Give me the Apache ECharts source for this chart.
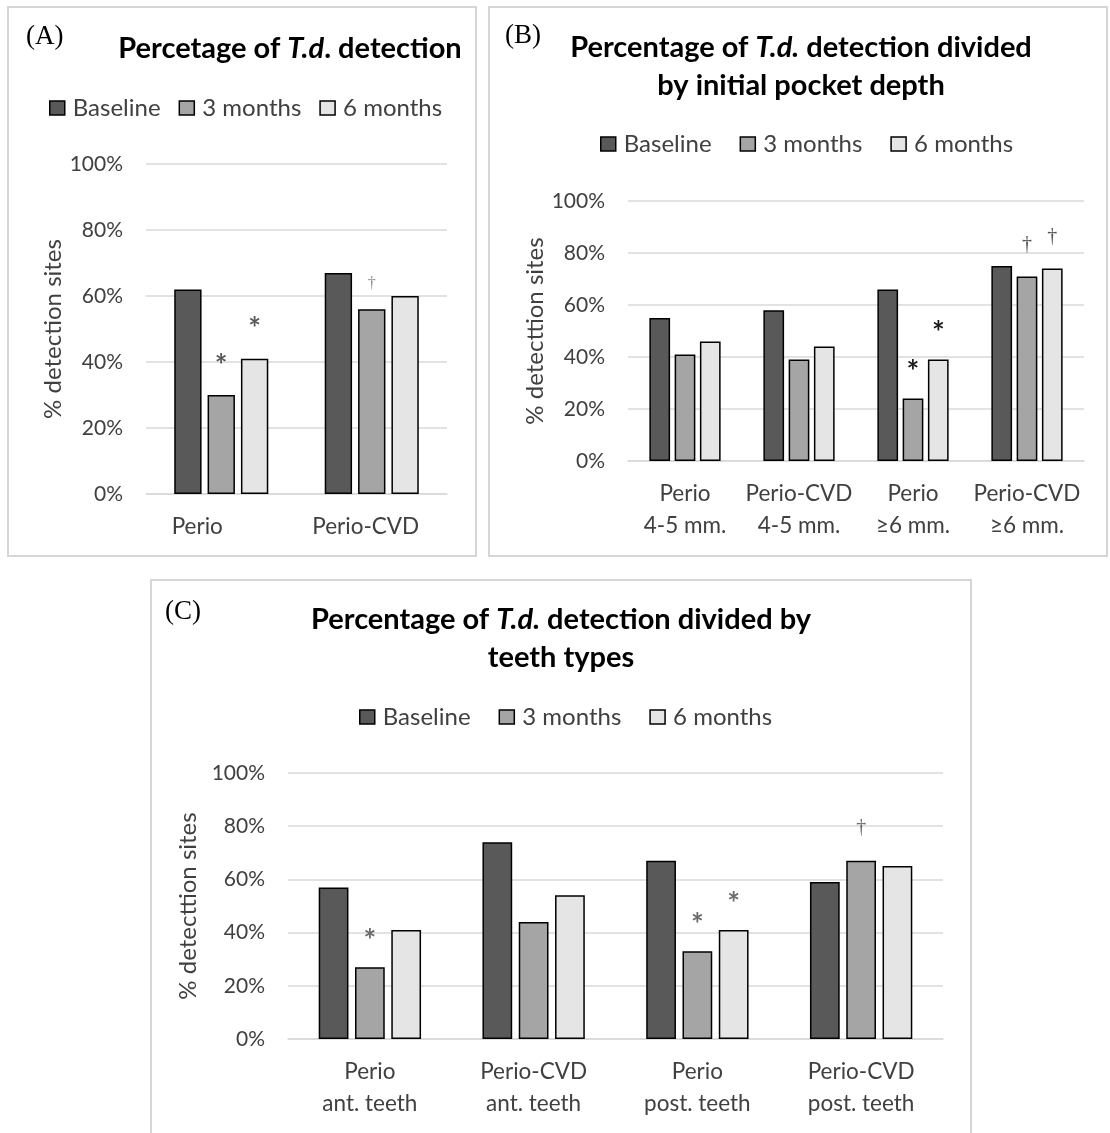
<!DOCTYPE html>
<html>
<head>
<meta charset="utf-8">
<script src="https://cdn.jsdelivr.net/npm/echarts@6/dist/echarts.min.js"></script>
<style>
  html, body { margin: 0; padding: 0; background: #ffffff; }
  #chart { width: 1110px; height: 1133px; }
</style>
</head>
<body>
<div id="chart"></div>
<script>
// ---- data ----
const seriesNames = ['Baseline', '3 months', '6 months'];

// Panel A: overall detection
const catsA = ['Perio', 'Perio-CVD'];
const baseA = [62, 67];
const m3A = [30, 56];
const m6A = [41, 60];
const markM3A = ['*', '\u2020'];
const markM6A = ['*', ''];

// Panel B: by initial pocket depth
const catsB = ['Perio\n4-5 mm.', 'Perio-CVD\n4-5 mm.', 'Perio\n\u22656 mm.', 'Perio-CVD\n\u22656 mm.'];
const baseB = [55, 58, 66, 75];
const m3B = [41, 39, 24, 71];
const m6B = [46, 44, 39, 74];
const markM3B = ['', '', '*', '\u2020'];
const markM6B = ['', '', '*', '\u2020'];

// Panel C: by teeth type
const catsC = ['Perio\nant. teeth', 'Perio-CVD\nant. teeth', 'Perio\npost. teeth', 'Perio-CVD\npost. teeth'];
const baseC = [57, 74, 67, 59];
const m3C = [27, 44, 33, 67];
const m6C = [41, 54, 41, 65];
const markM3C = ['*', '', '*', '\u2020'];
const markM6C = ['', '', '*', ''];

const yTicks = { min: 0, max: 100, interval: 20 };

// ---- styling ----
const FONT = 'Lato';
const TXT = '#404040';
const GRIDC = '#d9d9d9';
const fills = ['#595959', '#a5a5a5', '#e5e5e5'];

const panels = [
  { cats: catsA, vals: [baseA, m3A, m6A], marks: [null, markM3A, markM6A],
    grid: { left: 146, top: 164, width: 301, height: 330 },
    labelShift: [48, 12],
    yName: '% detection sites', nameGap: 78,
    starColor: '#5a5a5a', starDist: 14,
    dagSize: 16, dagColor: '#8a8a8a', dagDist: 17 },
  { cats: catsB, vals: [baseB, m3B, m6B], marks: [null, markM3B, markM6B],
    grid: { left: 628, top: 201, width: 456, height: 260 },
    labelShift: null,
    yName: '% detecttion sites', nameGap: 74,
    starColor: '#1a1a1a', starDist: 11,
    dagSize: 20, dagColor: '#555555', dagDist: 22 },
  { cats: catsC, vals: [baseC, m3C, m6C], marks: [null, markM3C, markM6C],
    grid: { left: 288, top: 773, width: 655, height: 266 },
    labelShift: null,
    yName: '% detecttion sites', nameGap: 74,
    starColor: '#6a6a6a', starDist: 11,
    dagSize: 20, dagColor: '#6a6a6a', dagDist: 23 }
];

function markLabel(sym, p) {
  if (sym === '*') {
    return { show: true, position: 'top', formatter: '*', distance: p.starDist,
      fontFamily: FONT, fontWeight: 'bold', fontSize: 30, color: p.starColor, lineHeight: 30 };
  }
  return { show: true, position: 'top', formatter: sym, distance: p.dagDist,
    fontFamily: 'Liberation Serif', fontSize: p.dagSize, color: p.dagColor, lineHeight: p.dagSize };
}

const grids = [], xAxes = [], yAxes = [], series = [];
panels.forEach((p, g) => {
  grids.push(Object.assign({ containLabel: false }, p.grid));
  const catData = p.cats.map((c, i) => p.labelShift
    ? { value: c, textStyle: { padding: [0, p.labelShift[i], 0, 0] } } : c);
  xAxes.push({
    type: 'category', gridIndex: g, data: catData,
    axisLine: { lineStyle: { color: GRIDC, width: 1.5 } },
    axisTick: { show: false },
    axisLabel: { interval: 0, fontFamily: FONT, fontSize: 22.5, color: TXT, margin: 17, lineHeight: 32 }
  });
  yAxes.push({
    type: 'value', gridIndex: g, min: yTicks.min, max: yTicks.max, interval: yTicks.interval,
    axisLine: { show: false }, axisTick: { show: false },
    axisLabel: { formatter: '{value}%', fontFamily: FONT, fontSize: 21, color: TXT, margin: 23 },
    splitLine: { lineStyle: { color: GRIDC, width: 1.5 } },
    name: p.yName, nameLocation: 'middle', nameRotate: 90, nameGap: p.nameGap,
    nameTextStyle: { fontFamily: FONT, fontSize: 24, color: TXT }
  });
  seriesNames.forEach((name, s) => {
    const marks = p.marks[s];
    series.push({
      name: name, type: 'bar', xAxisIndex: g, yAxisIndex: g,
      barGap: '22%', barCategoryGap: '37.5%',
      itemStyle: { color: fills[s], borderColor: '#000', borderWidth: 1.5 },
      emphasis: { disabled: true },
      data: p.vals[s].map((v, i) => (marks && marks[i])
        ? { value: v, label: markLabel(marks[i], p) } : v)
    });
  });
});

function legendAt(left, centerY, gap) {
  return {
    data: seriesNames, left: left, top: centerY - 14, padding: 0,
    icon: 'rect', itemWidth: 15, itemHeight: 14, itemGap: gap,
    itemStyle: { borderColor: '#000', borderWidth: 1.5 },
    textStyle: { fontFamily: FONT, fontSize: 24, color: TXT, padding: [0, 0, 0, 3] },
    selectedMode: false
  };
}

const titleRich = {
  b: { fontFamily: FONT, fontWeight: 'bold', fontSize: 29, color: '#000', lineHeight: 38 },
  i: { fontFamily: FONT, fontWeight: 'bold', fontStyle: 'italic', fontSize: 29, color: '#000', lineHeight: 38 }
};

function titleText(x, y, text) {
  return { type: 'text', x: x, y: y, silent: true,
    style: { text: text, rich: titleRich, align: 'center', verticalAlign: 'middle' } };
}
function tagText(x, y, text) {
  return { type: 'text', x: x, y: y, silent: true,
    style: { text: text, fontFamily: 'Liberation Serif', fontSize: 27, fill: '#000',
      align: 'left', verticalAlign: 'middle' } };
}
function frame(x, y, w, h) {
  return { type: 'rect', silent: true, shape: { x: x, y: y, width: w, height: h },
    style: { fill: 'none', stroke: '#d6d6d6', lineWidth: 2 } };
}

const option = {
  animation: false,
  backgroundColor: '#ffffff',
  grid: grids, xAxis: xAxes, yAxis: yAxes, series: series,
  legend: [legendAt(49, 110, 18), legendAt(600, 146, 28), legendAt(359, 719, 28)],
  graphic: [
    frame(8, 7, 468, 549),
    frame(489, 7, 618, 549),
    frame(151, 580, 820, 570),
    tagText(26, 37, '(A)'),
    tagText(505, 36, '(B)'),
    tagText(165, 612, '(C)'),
    titleText(290, 49, '{b|Percetage of }{i|T.d}{b|. detection}'),
    titleText(801, 67, '{b|Percentage of }{i|T.d.}{b| detection divided}\n{b|by initial pocket depth}'),
    titleText(561, 639, '{b|Percentage of }{i|T.d.}{b| detection divided by}\n{b|teeth types}')
  ]
};

const chart = echarts.init(document.getElementById('chart'), null, { renderer: 'canvas' });
chart.setOption(option);
</script>
</body>
</html>
